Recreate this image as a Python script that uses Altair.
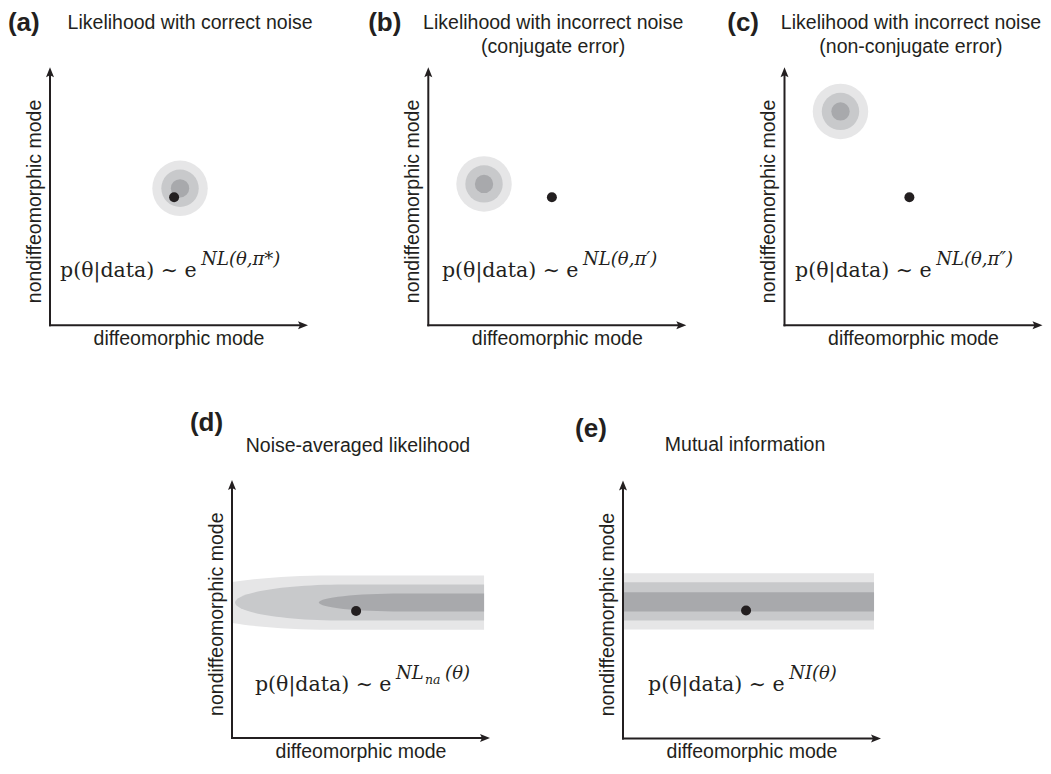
import math
import altair as alt
import pandas as pd

# ---------------- values (each panel axis runs 0..10 axis units) ----------------
panel_ids = ["a", "b", "c", "d", "e"]
panel_labels = ["(a)", "(b)", "(c)", "(d)", "(e)"]
title_line1 = ["Likelihood with correct noise", "Likelihood with incorrect noise",
               "Likelihood with incorrect noise", "Noise-averaged likelihood", "Mutual information"]
title_line2 = ["", "(conjugate error)", "(non-conjugate error)", "", ""]
x_title = "diffeomorphic mode"
y_title = "nondiffeomorphic mode"
formula_main = "p(θ|data) ∼ e"
formula_sup = ["NL(θ,π*)", "NL(θ,π′)", "NL(θ,π″)", "NL", "NI(θ)"]
formula_sub_d = ["na", "(θ)"]

# true parameter (black dot) in each panel
dot_x = [4.81, 4.79, 4.84, 4.81, 4.77]
dot_y = [4.96, 4.96, 4.96, 4.92, 4.96]

# contour levels: outer, middle, inner
levels = ["outer", "middle", "inner"]
level_colors = ["#e6e6e7", "#c8c9cb", "#a8a9ac"]

# panels a-c: concentric circular contours (centre, diameters)
circ_cx = [5.04, 2.16, 2.17]
circ_cy = [5.31, 5.48, 8.29]
circ_diam = [2.15, 1.45, 0.71]

# panel d: contours stretched along the diffeomorphic mode
d_center_y = 5.25
d_cap_x = [3.80, 4.38, 6.59]     # centre of rounded left end
d_cap_len = [5.81, 4.26, 3.22]   # semi-length of rounded left end
d_half = [1.05, 0.70, 0.35]      # half-width across the band
d_end_x = 9.77

# panel e: flat bands
e_low = [4.22, 4.57, 4.92]
e_high = [6.40, 6.05, 5.66]
e_end_x = 9.73

# ---------------- layout ----------------
U = 25.8                       # pixels per axis unit
W_PX, H_PX = 1035, 754         # drawing area
origin_page = {"a": (50, 325.3), "b": (428.3, 325.3), "c": (784.5, 325.3),
               "d": (232, 738.0), "e": (623, 738.4)}
OX = {p: (v[0] - 8) / U for p, v in origin_page.items()}
OY = {p: (8 + H_PX - v[1]) / U for p, v in origin_page.items()}

# annotation positions, in axis units relative to each panel origin
label_pos = {"a": (-1.63, 11.39), "b": (-2.33, 11.39), "c": (-2.22, 11.39),
             "d": (-1.63, 11.90), "e": (-1.86, 11.70)}
title_pos = {"a": (5.43, 11.48), "b": (4.84, 11.48), "c": (4.90, 11.48),
             "d": (4.88, 11.10), "e": (4.73, 11.15)}
title2_dy = -0.94
formula_pos = {"a": (0.39, 1.88), "b": (0.53, 1.88), "c": (0.41, 1.88),
               "d": (0.89, 1.83), "e": (0.97, 1.82)}
sup_dx, sup_dy = 5.47, 0.47
xlab_pos = (5.0, -0.77)
ylab_pos = (-0.36, 4.8)
AXIS_END = 10.0

INK = "#231f20"
SANS = "Liberation Sans"
SERIF = "DejaVu Serif"
ARROW_RIGHT = "M0,0L-2,-0.8L-1.6,0L-2,0.8Z"
ARROW_UP = "M0,0L-0.8,2L0,1.6L0.8,2Z"

XS = alt.Scale(domain=[0, W_PX / U])
YS = alt.Scale(domain=[0, H_PX / U])
SIZE_SCALE = alt.Scale(type="pow", exponent=2, domain=[0, 10], range=[0, (10 * U) ** 2])
COLOR_SCALE = alt.Scale(domain=levels, range=level_colors)


def X(f):
    return alt.X(f"{f}:Q", scale=XS, axis=None)


def Y(f):
    return alt.Y(f"{f}:Q", scale=YS, axis=None)


def gx(p, v):
    return OX[p] + v


def gy(p, v):
    return OY[p] + v


# ---------------- contour shapes ----------------
rows = []
for k, p in enumerate(["a", "b", "c"]):
    for j in range(3):
        rows.append({"x": gx(p, circ_cx[k]), "y": gy(p, circ_cy[k]), "diam": circ_diam[j],
                     "level": levels[j], "shape": "circle"})
for j in range(3):
    a = d_cap_len[j]
    k = d_half[j] / a
    u0 = max(-1.0, -d_cap_x[j] / a)          # cut at the vertical axis
    v0 = k * math.sqrt(max(0.0, 1 - u0 * u0))
    R = (d_end_x - d_cap_x[j]) / a
    path = (f"M{u0:.4f},{-v0:.4f}A1,{k:.4f} 0 0,1 0,{-k:.4f}L{R:.4f},{-k:.4f}"
            f"L{R:.4f},{k:.4f}L0,{k:.4f}A1,{k:.4f} 0 0,1 {u0:.4f},{v0:.4f}Z")
    rows.append({"x": gx("d", d_cap_x[j]), "y": gy("d", d_center_y), "diam": 2 * a,
                 "level": levels[j], "shape": path})
shape_df = pd.DataFrame(rows)

contours = alt.Chart(shape_df).mark_point(filled=True, opacity=1, strokeWidth=0).encode(
    x=X("x"), y=Y("y"),
    size=alt.Size("diam:Q", scale=SIZE_SCALE, legend=None),
    shape=alt.Shape("shape:N", scale=None),
    color=alt.Color("level:N", scale=COLOR_SCALE, legend=None))

band_df = pd.DataFrame({"x1": [gx("e", 0.0)] * 3, "x2": [gx("e", e_end_x)] * 3,
                        "y1": [gy("e", v) for v in e_low], "y2": [gy("e", v) for v in e_high],
                        "level": levels})
bands = alt.Chart(band_df).mark_rect().encode(
    x=X("x1"), x2="x2", y=Y("y1"), y2="y2",
    color=alt.Color("level:N", scale=COLOR_SCALE, legend=None))

dot_df = pd.DataFrame({"x": [gx(p, v) for p, v in zip(panel_ids, dot_x)],
                       "y": [gy(p, v) for p, v in zip(panel_ids, dot_y)]})
dots = alt.Chart(dot_df).mark_point(shape="circle", filled=True, opacity=1, size=100,
                                    color=INK, strokeWidth=0).encode(x=X("x"), y=Y("y"))

# ---------------- axes ----------------
axis_rows, head_rows = [], []
for p in panel_ids:
    axis_rows.append({"x": gx(p, 0), "y": gy(p, 0), "x2": gx(p, AXIS_END - 0.2), "y2": gy(p, 0)})
    axis_rows.append({"x": gx(p, 0), "y": gy(p, 0), "x2": gx(p, 0), "y2": gy(p, AXIS_END - 0.2)})
    head_rows.append({"x": gx(p, AXIS_END), "y": gy(p, 0), "dir": "right"})
    head_rows.append({"x": gx(p, 0), "y": gy(p, AXIS_END), "dir": "up"})
axes = alt.Chart(pd.DataFrame(axis_rows)).mark_rule(color=INK, strokeWidth=2,
                                                    strokeCap="square").encode(
    x=X("x"), y=Y("y"), x2="x2", y2="y2")
heads = alt.Chart(pd.DataFrame(head_rows)).mark_point(size=100, filled=True, opacity=1,
                                                      color=INK, strokeWidth=0).encode(
    x=X("x"), y=Y("y"),
    shape=alt.Shape("dir:N", scale=alt.Scale(domain=["right", "up"],
                                             range=[ARROW_RIGHT, ARROW_UP]), legend=None))

# ---------------- texts ----------------
def text_layer(rows, **kw):
    return alt.Chart(pd.DataFrame(rows)).mark_text(color=INK, **kw).encode(
        x=X("x"), y=Y("y"), text="t:N")


lab_rows, tit_rows, xl_rows, yl_rows, fm_rows, fs_rows, sub_rows = [], [], [], [], [], [], []
for i, p in enumerate(panel_ids):
    lx, ly = label_pos[p]
    lab_rows.append({"x": gx(p, lx), "y": gy(p, ly), "t": panel_labels[i]})
    tx, ty = title_pos[p]
    tit_rows.append({"x": gx(p, tx), "y": gy(p, ty), "t": title_line1[i]})
    if title_line2[i]:
        tit_rows.append({"x": gx(p, tx), "y": gy(p, ty + title2_dy), "t": title_line2[i]})
    xl_rows.append({"x": gx(p, xlab_pos[0]), "y": gy(p, xlab_pos[1]), "t": x_title})
    yl_rows.append({"x": gx(p, ylab_pos[0]), "y": gy(p, ylab_pos[1]), "t": y_title})
    fx, fy = formula_pos[p]
    fm_rows.append({"x": gx(p, fx), "y": gy(p, fy), "t": formula_main})
    fs_rows.append({"x": gx(p, fx + sup_dx), "y": gy(p, fy + sup_dy), "t": formula_sup[i]})
    if p == "d":
        sub_rows.append({"x": gx(p, fx + sup_dx + 1.12), "y": gy(p, fy + sup_dy - 0.22),
                         "t": formula_sub_d[0]})
        fs_rows.append({"x": gx(p, fx + sup_dx + 1.90), "y": gy(p, fy + sup_dy),
                        "t": formula_sub_d[1]})

texts = [
    text_layer(lab_rows, align="left", baseline="alphabetic", font=SANS, fontSize=26,
               fontWeight="bold"),
    text_layer(tit_rows, align="center", baseline="alphabetic", font=SANS, fontSize=19.5),
    text_layer(xl_rows, align="center", baseline="alphabetic", font=SANS, fontSize=19.5),
    text_layer(yl_rows, align="center", baseline="alphabetic", font=SANS, fontSize=19.5,
               angle=270),
    text_layer(fm_rows, align="left", baseline="alphabetic", font=SERIF, fontSize=20.5),
    text_layer(fs_rows, align="left", baseline="alphabetic", font=SERIF, fontSize=18,
               fontStyle="italic"),
    text_layer(sub_rows, align="left", baseline="alphabetic", font=SERIF, fontSize=12.5,
               fontStyle="italic"),
]

chart = alt.layer(contours, bands, dots, axes, heads, *texts).properties(
    width=W_PX, height=H_PX, padding=0, background="white",
    autosize=alt.AutoSizeParams(type="none")).configure_view(stroke=None)

chart.save("out.html", embed_options={"renderer": "svg", "actions": False})
